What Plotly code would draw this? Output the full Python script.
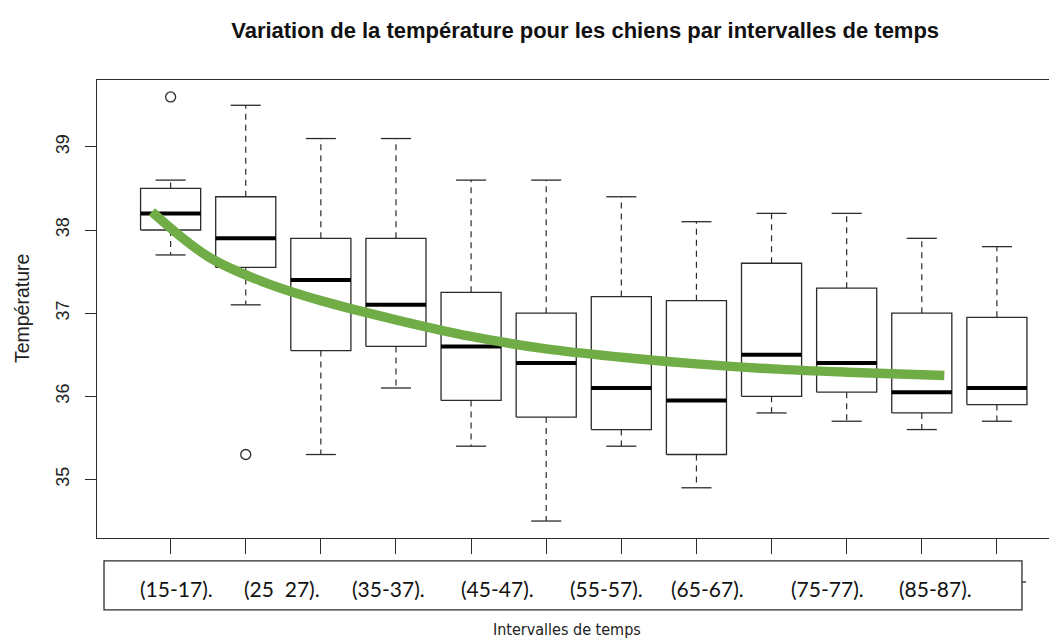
import plotly.graph_objects as go

# boxplot stats per time interval
positions = list(range(1, 13))
lower_whisker = [37.7, 37.1, 35.3, 36.1, 35.4, 34.5, 35.4, 34.9, 35.8, 35.7, 35.6, 35.7]
q1 = [38.0, 37.55, 36.55, 36.6, 35.95, 35.75, 35.6, 35.3, 36.0, 36.05, 35.8, 35.9]
median = [38.2, 37.9, 37.4, 37.1, 36.6, 36.4, 36.1, 35.95, 36.5, 36.4, 36.05, 36.1]
q3 = [38.5, 38.4, 37.9, 37.9, 37.25, 37.0, 37.2, 37.15, 37.6, 37.3, 37.0, 36.95]
upper_whisker = [38.6, 39.5, 39.1, 39.1, 38.6, 38.6, 38.4, 38.1, 38.2, 38.2, 37.9, 37.8]

outlier_x = [1, 2]
outlier_y = [39.6, 35.3]

# green trend curve drawn over the boxes
trend_x = [0.75, 1.5, 2.25, 3, 4, 5, 6, 7, 8, 9, 10, 11.3]
trend_y = [38.22, 37.68, 37.37, 37.15, 36.92, 36.72, 36.57, 36.47, 36.39, 36.33, 36.29, 36.25]

interval_labels = ["(15-17).", "(25  27).", "(35-37).", "(45-47).", "(55-57).", "(65-67).", "(75-77).", "(85-87)."]
label_x = [1.08, 2.48, 3.9, 5.35, 6.8, 8.15, 9.75, 11.18]

half_w = 0.4   # boxwex 0.8
cap_w = 0.2    # staplewex 0.5
dark = "#2b2b2b"

box_x, box_y = [], []
med_x, med_y = [], []
wh_x, wh_y = [], []
cap_x, cap_y = [], []
for p, lo, a, m, b, hi in zip(positions, lower_whisker, q1, median, q3, upper_whisker):
    box_x += [p - half_w, p + half_w, p + half_w, p - half_w, p - half_w, None]
    box_y += [a, a, b, b, a, None]
    med_x += [p - half_w, p + half_w, None]
    med_y += [m, m, None]
    wh_x += [p, p, None, p, p, None]
    wh_y += [b, hi, None, a, lo, None]
    cap_x += [p - cap_w, p + cap_w, None, p - cap_w, p + cap_w, None]
    cap_y += [hi, hi, None, lo, lo, None]

fig = go.Figure()
fig.add_scatter(x=wh_x, y=wh_y, mode="lines", line=dict(color=dark, width=1.2, dash="6px,5px"), hoverinfo="skip")
fig.add_scatter(x=cap_x, y=cap_y, mode="lines", line=dict(color=dark, width=1.3), hoverinfo="skip")
fig.add_scatter(x=box_x, y=box_y, mode="lines", fill="toself", fillcolor="white",
                line=dict(color=dark, width=1.3), hoverinfo="skip")
fig.add_scatter(x=med_x, y=med_y, mode="lines", line=dict(color="black", width=4), hoverinfo="skip")
fig.add_scatter(x=outlier_x, y=outlier_y, mode="markers",
                marker=dict(symbol="circle-open", size=10, color=dark, line=dict(width=1.3)))
fig.add_scatter(x=trend_x, y=trend_y, mode="lines", line=dict(color="#70ad47", width=9.5, shape="spline"))

# white box holding the interval labels under the axis
fig.add_shape(type="rect", xref="paper", yref="paper", x0=0.0073, x1=0.9635, y0=-0.157, y1=-0.050,
              line=dict(color=dark, width=1.3), fillcolor="white")
fig.add_shape(type="line", xref="paper", yref="paper", x0=0.9635, x1=0.9678, y0=-0.096, y1=-0.096,
              line=dict(color=dark, width=1.3))
for lab, lx in zip(interval_labels, label_x):
    fig.add_annotation(x=lx, y=-0.111, xref="x", yref="paper", text=lab, showarrow=False, yanchor="middle",
                       font=dict(family="Lato, Carlito, Calibri, sans-serif", size=21, color="#111"))

fig.add_annotation(x=0.49, y=-0.2, xref="paper", yref="paper", text="Intervalles de temps", showarrow=False,
                   font=dict(family="Liberation Sans Narrow, DejaVu Sans Condensed, Arial Narrow, sans-serif",
                             size=16, color="#222"),
                   yanchor="middle")
fig.add_annotation(x=-0.078, y=0.5, xref="paper", yref="paper", text="Température", showarrow=False,
                   textangle=-90, xanchor="center", yanchor="middle",
                   font=dict(family="Liberation Sans, Arial, sans-serif", size=19.5, color="#222"))

# the page adds an 8px body margin, so the figure is 8px smaller on each side
fig.update_layout(
    width=1049, height=633,
    margin=dict(l=89, r=0, t=72, b=103, autoexpand=False),
    plot_bgcolor="white", paper_bgcolor="white",
    showlegend=False,
    title=dict(text="<b>Variation de la température pour les chiens par intervalles de temps</b>",
               x=0.5502, xanchor="center", y=0.965, yanchor="middle",
               font=dict(family="Liberation Sans, Arial, sans-serif", size=22, color="#111")),
)
fig.update_xaxes(range=[0.02, 12.8], tickvals=positions, showticklabels=False, ticks="outside", ticklen=15,
                 tickcolor=dark, tickwidth=1.3, showline=True, linecolor=dark, linewidth=1.3, mirror=True,
                 showgrid=False, zeroline=False, automargin=False)
fig.update_yaxes(range=[34.296, 39.804], tickvals=[35, 36, 37, 38, 39], ticks="outside", ticklen=11,
                 tickcolor=dark, tickwidth=1.3, tickangle=-90, showline=True, linecolor=dark, linewidth=1.3,
                 showgrid=False, zeroline=False, automargin=False, ticklabelstandoff=9,
                 tickfont=dict(family="Liberation Sans, Arial, sans-serif", size=18, color="#222"))

fig.write_html("out.html")
